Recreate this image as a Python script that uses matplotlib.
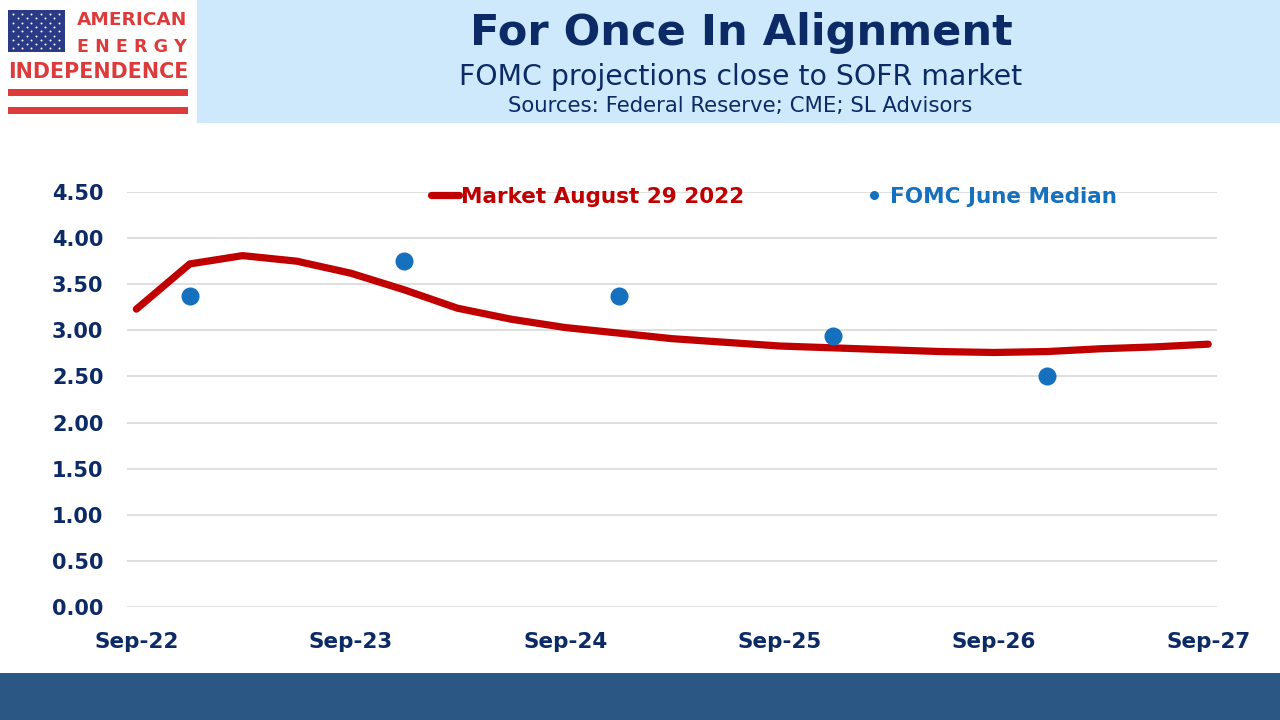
import matplotlib
matplotlib.use('Agg')
import matplotlib.pyplot as plt
import matplotlib.dates as mdates
from matplotlib.patches import Rectangle
import pandas as pd
import numpy as np

# ---------------- data ----------------
market_dates = pd.date_range('2022-09-01', periods=21, freq='3MS')
market_values = [3.23, 3.72, 3.81, 3.75, 3.62, 3.44, 3.24, 3.12, 3.03, 2.97, 2.91,
                 2.87, 2.83, 2.81, 2.79, 2.77, 2.76, 2.77, 2.80, 2.82, 2.85]
fomc_dates = pd.to_datetime(['2022-12-01', '2023-12-01', '2024-12-01', '2025-12-01', '2026-12-01'])
fomc_values = [3.37, 3.75, 3.37, 2.94, 2.50]
xtick_dates = pd.to_datetime(['2022-09-01', '2023-09-01', '2024-09-01', '2025-09-01',
                              '2026-09-01', '2027-09-01'])
yticks = [0.0, 0.5, 1.0, 1.5, 2.0, 2.5, 3.0, 3.5, 4.0, 4.5]

title = 'For Once In Alignment'
subtitle = 'FOMC projections close to SOFR market'
sources = 'Sources: Federal Reserve; CME; SL Advisors'
market_label = 'Market August 29 2022'
fomc_label = 'FOMC June Median'

NAVY = '#0c2a66'
RED = '#c00000'
BLUE = '#1570be'
W, H = 1280, 720

fig = plt.figure(figsize=(12.8, 7.2), dpi=100)
fig.patch.set_facecolor('white')

def fx(px):
    return px / W

def fy(py):
    return 1 - py / H

# header band and footer band
fig.patches.append(Rectangle((fx(197), fy(123)), fx(W - 197), 123 / H,
                             transform=fig.transFigure, facecolor='#cde9fb', edgecolor='none', zorder=0))
fig.patches.append(Rectangle((0, 0), 1, 47 / H, transform=fig.transFigure,
                             facecolor='#2a5783', edgecolor='none', zorder=0))

renderer = fig.canvas.get_renderer()

def fit_text(x, y, s, target_w, color, weight='normal', family='DejaVu Sans', ha='center', size0=20):
    t = fig.text(fx(x), fy(y), s, color=color, fontsize=size0, fontweight=weight,
                 family=family, ha=ha, va='center')
    bb = t.get_window_extent(renderer=renderer)
    t.set_fontsize(size0 * target_w / bb.width)
    return t

# titles
fit_text(741, 33, title, 542, NAVY, weight='bold', size0=30)
fit_text(741, 77, subtitle, 562, NAVY, size0=20)
fit_text(740, 106, sources, 466, NAVY, size0=16)

# logo
LRED = '#dd3b3b'
fig.patches.append(Rectangle((fx(8), fy(52)), fx(57), 42 / H, transform=fig.transFigure,
                             facecolor='#2b3a86', edgecolor='none'))
sx, sy = [], []
for r in range(9):
    ncol = 6 if r % 2 == 0 else 5
    off = 0 if r % 2 == 0 else 4.5
    for c in range(ncol):
        sx.append(fx(13 + off + c * 9.2))
        sy.append(fy(14 + r * 4.3))
fig.add_artist(plt.Line2D(sx, sy, transform=fig.transFigure, ls='none', marker='o',
                          ms=1.4, mfc='white', mec='none'))
fit_text(132, 20, 'AMERICAN', 110, LRED, weight='bold', size0=14)
fit_text(132, 47, 'E N E R G Y', 110, LRED, weight='bold', size0=14)
fit_text(98, 72, 'INDEPENDENCE', 180, LRED, weight='bold', size0=14)
for yy in (89, 107):
    fig.patches.append(Rectangle((fx(8), fy(yy + 7)), fx(180), 7 / H, transform=fig.transFigure,
                                 facecolor=LRED, edgecolor='none'))

# ---------------- chart ----------------
ax = fig.add_axes([fx(127), fy(607), fx(1217 - 127), (607 - 192) / H])
ax.set_facecolor('none')
ax.plot(market_dates, market_values, color=RED, lw=5.2, solid_capstyle='round',
        solid_joinstyle='round', label=market_label, zorder=3)
ax.plot(fomc_dates, fomc_values, ls='none', marker='o', ms=13, color=BLUE,
        mec='none', label=fomc_label, zorder=4)

ax.set_ylim(0, 4.5)
ax.set_yticks(yticks)
ax.set_yticklabels([f'{v:.2f}' for v in yticks])
ax.set_xlim(pd.Timestamp('2022-08-16'), pd.Timestamp('2027-09-16'))
ax.set_xticks(xtick_dates)
ax.xaxis.set_major_formatter(mdates.DateFormatter('%b-%y'))

for s in ax.spines.values():
    s.set_visible(False)
ax.grid(axis='y', color='#d9d9d9', lw=1.2, zorder=0)
ax.set_axisbelow(True)
ax.tick_params(axis='both', length=0)
ax.tick_params(axis='y', pad=17, labelsize=15, labelcolor=NAVY)
ax.tick_params(axis='x', pad=18, labelsize=15.5, labelcolor=NAVY)
for lab in ax.get_yticklabels():
    lab.set_fontweight('bold')
    lab.set_family('DejaVu Sans')
for lab in ax.get_xticklabels():
    lab.set_fontweight('bold')
    lab.set_family('DejaVu Sans')
for lab in ax.get_yticklabels()[-1:]:
    lab.set_clip_on(False)

leg = ax.legend(loc='center', bbox_to_anchor=((774 - 127) / (1217 - 127), (607 - 197) / (607 - 192)),
                ncol=2, frameon=False, handlelength=1.3, handletextpad=0.1, columnspacing=5.4,
                labelcolor='linecolor', markerscale=0.5,
                prop={'family': 'DejaVu Sans', 'weight': 'bold', 'size': 15.5})

fig.savefig('out.png', dpi=100, facecolor='white')
